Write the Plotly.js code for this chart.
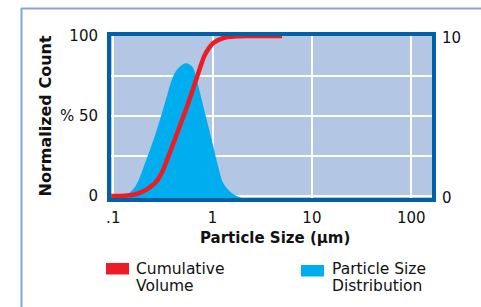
<!DOCTYPE html>
<html>
<head>
<meta charset="utf-8">
<script src="https://cdn.plot.ly/plotly-3.0.1.min.js"></script>
<style>html,body{margin:0;padding:0;background:#fff;}#chart{width:481px;height:307px;}</style>
</head>
<body>
<div id="chart"></div>
<script>
// Particle size (µm) and values
const distSize = [0.126, 0.166, 0.209, 0.274, 0.345, 0.388, 0.435, 0.536, 0.625, 0.692, 0.838, 0.98, 1.14, 1.28, 1.56, 1.96];
const distValue = [0, 0.71, 2.19, 4.25, 6.33, 7.38, 8.0, 8.42, 8.2, 7.38, 5.31, 3.63, 1.96, 0.94, 0.31, 0];
const cumSize = [0.095, 0.131, 0.179, 0.263, 0.307, 0.358, 0.452, 0.569, 0.718, 0.747, 0.838, 1.016, 1.28, 1.75, 2.5, 5.0];
const cumValue = [0, 0.2, 1.7, 8.1, 14.4, 24.6, 41.3, 58.1, 76.9, 80, 88.3, 95.6, 98.75, 99.8, 100, 100];
const xTickVals = [0.1, 1, 10, 100];
const xTickText = ['.1', '1', '10', '100'];
const leftTickVals = [0, 25, 50, 75, 100];
const leftTickText = ['0', '', '% 50', '', '100'];
const rightTickVals = [0, 10];
const rightTickText = ['0', '10'];

const FONT = 'DejaVu Sans, Liberation Sans, sans-serif';
const frame = '#0060a8';

const traces = [
  {x: distSize, y: distValue, yaxis: 'y', type: 'scatter', mode: 'lines',
   line: {width: 0, shape: 'spline', color: '#00aeef'}, fill: 'tozeroy', fillcolor: '#00aeef',
   name: 'Particle Size Distribution', hoverinfo: 'x+y'},
  {x: cumSize, y: cumValue, yaxis: 'y2', type: 'scatter', mode: 'lines',
   line: {width: 4.5, shape: 'spline', color: '#ed1c24'},
   name: 'Cumulative Volume', hoverinfo: 'x+y'}
];

const W = 321, H = 162;
const px = v => (v - 111) / W;
const py = v => (198 - v) / H;

const ann = (text, x, y, size, xanchor, extra) => Object.assign({
  text: text, xref: 'paper', yref: 'paper', x: px(x), y: py(y),
  xanchor: xanchor, yanchor: 'middle', showarrow: false,
  font: {size: size, family: FONT, color: '#111'}
}, extra || {});

const layout = {
  width: 481, height: 307,
  margin: {l: 111, r: 49, t: 36, b: 109, pad: 0},
  paper_bgcolor: '#ffffff',
  plot_bgcolor: '#b3c6e3',
  showlegend: false,
  font: {family: FONT, color: '#111111', size: 15},
  xaxis: {
    type: 'log', range: [-1.023, 2.209],
    tickmode: 'array', tickvals: xTickVals, ticktext: xTickText,
    showgrid: true, gridcolor: '#ffffff', gridwidth: 2,
    showline: true, linewidth: 4, linecolor: frame, mirror: true,
    ticks: '', zeroline: false, ticklabelstandoff: 3,
    tickfont: {size: 15, family: FONT, color: '#111'}, fixedrange: true
  },
  yaxis: {
    side: 'right', range: [0, 10.125],
    tickmode: 'array', tickvals: rightTickVals, ticktext: rightTickText,
    showgrid: false, zeroline: false, showline: false, ticks: '',
    ticklabelstandoff: 9,
    tickfont: {size: 15, family: FONT, color: '#111'}, fixedrange: true
  },
  yaxis2: {
    overlaying: 'y', side: 'left', range: [-1.25, 100],
    tickmode: 'array', tickvals: leftTickVals, ticktext: leftTickText,
    showgrid: true, gridcolor: '#ffffff', gridwidth: 2,
    showline: true, linewidth: 4, linecolor: frame, mirror: true,
    zeroline: false, ticks: '', ticklabelstandoff: 6,
    tickfont: {size: 15, family: FONT, color: '#111'}, fixedrange: true
  },
  shapes: [
    {type: 'line', xref: 'paper', yref: 'paper', x0: px(21), x1: px(481), y0: py(8.5), y1: py(8.5), line: {color: '#86a5d9', width: 2}},
    {type: 'line', xref: 'paper', yref: 'paper', x0: px(21.5), x1: px(21.5), y0: py(8), y1: py(307), line: {color: '#86a5d9', width: 2}},
    {type: 'rect', xref: 'paper', yref: 'paper', x0: px(106), x1: px(129), y0: py(263), y1: py(274.5), line: {width: 0}, fillcolor: '#ed1c24'},
    {type: 'rect', xref: 'paper', yref: 'paper', x0: px(301), x1: px(324), y0: py(265), y1: py(276.5), line: {width: 0}, fillcolor: '#00aeef'}
  ],
  annotations: [
    ann('<b>Normalized Count</b>', 44.5, 116, 16, 'center', {textangle: -90}),
    ann('<b>Particle Size (µm)</b>', 275, 238, 15, 'center'),
    ann('Cumulative', 134, 269, 15.5, 'left'),
    ann('Volume', 134, 286, 15.5, 'left'),
    ann('Particle Size', 330, 269, 15.5, 'left'),
    ann('Distribution', 330, 286, 15.5, 'left')
  ]
};

Plotly.newPlot('chart', traces, layout, {displayModeBar: false, staticPlot: true});
</script>
</body>
</html>
